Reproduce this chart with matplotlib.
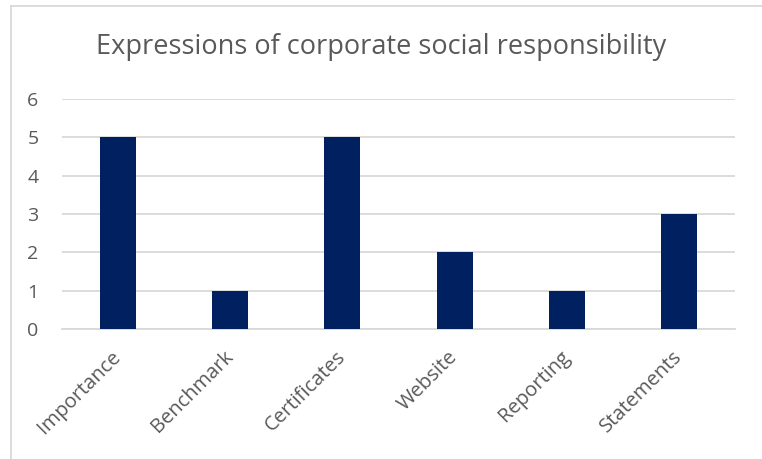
import matplotlib.pyplot as plt
from matplotlib.lines import Line2D
from matplotlib.transforms import ScaledTranslation

categories = ["Importance", "Benchmark", "Certificates", "Website", "Reporting", "Statements"]
values = [5, 1, 5, 2, 1, 3]
yticks = [0, 1, 2, 3, 4, 5, 6]

W, H = 762, 459
fig = plt.figure(figsize=(W / 100, H / 100), dpi=100)
plt.rcParams['font.family'] = ['Open Sans', 'DejaVu Sans']

# plot area in pixels: x 62..735, y 99..329
ax = fig.add_axes([62 / W, 1 - 329 / H, (735 - 62) / W, (329 - 99) / H])

x = list(range(len(categories)))
ax.bar(x, values, width=0.32, color="#002060", zorder=3)
ax.set_xlim(-0.5, len(categories) - 0.5)
ax.set_ylim(0, 6)
ax.set_yticks(yticks)
ax.yaxis.grid(True, color="#d9d9d9", linewidth=1.3, zorder=0)
ax.set_xticks(x)
ax.set_xticklabels([])
# rotated category labels, placed like Excel does (slightly left of the tick)
shift = ScaledTranslation(-7 / 100, -18 / 100, fig.dpi_scale_trans)
for xi, name in zip(x, categories):
    ax.text(xi, 0, name, transform=ax.get_xaxis_transform() + shift,
            rotation=45, ha="right", va="top", rotation_mode="anchor",
            fontsize=14.5, color="#595959")
for lab in ax.get_yticklabels():
    lab.set_fontsize(14)
    lab.set_color("#595959")
ax.tick_params(axis="both", length=0)
ax.tick_params(axis="y", pad=17)
for s in ["top", "right", "left"]:
    ax.spines[s].set_visible(False)
ax.spines["bottom"].set_color("#d9d9d9")
ax.spines["bottom"].set_linewidth(1.3)

fig.text(381 / W, 1 - 47 / H, "Expressions of corporate social responsibility",
         ha="center", va="center", fontsize=19.5, color="#595959")

# chart border (left and top visible)
fig.add_artist(Line2D([11 / W, 11 / W], [0, 1 - 6 / H], transform=fig.transFigure,
                      color="#d9d9d9", linewidth=1.3))
fig.add_artist(Line2D([11 / W, 1], [1 - 6 / H, 1 - 6 / H], transform=fig.transFigure,
                      color="#d9d9d9", linewidth=1.3))

fig.savefig("out.png", dpi=100)
